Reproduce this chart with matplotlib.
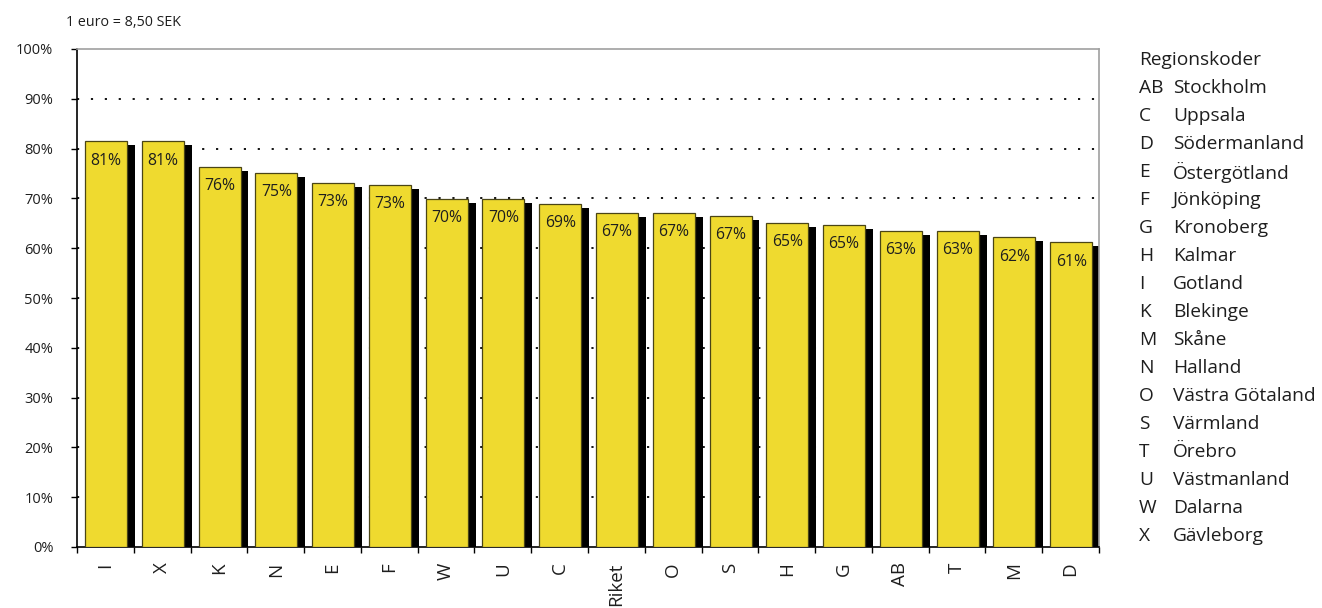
import matplotlib
matplotlib.use("Agg")
import matplotlib.pyplot as plt
import numpy as np

plt.rcParams['font.family'] = ['Open Sans', 'DejaVu Sans']

categories = ["I", "X", "K", "N", "E", "F", "W", "U", "C", "Riket",
              "O", "S", "H", "G", "AB", "T", "M", "D"]
values = [81.5, 81.5, 76.3, 75.1, 73.1, 72.7, 69.9, 69.9, 68.9, 67.1,
          67.1, 66.5, 65.1, 64.7, 63.5, 63.5, 62.2, 61.2]
labels = ["81%", "81%", "76%", "75%", "73%", "73%", "70%", "70%", "69%", "67%",
          "67%", "67%", "65%", "65%", "63%", "63%", "62%", "61%"]
yticks = [0, 10, 20, 30, 40, 50, 60, 70, 80, 90, 100]
ytick_labels = ["0%", "10%", "20%", "30%", "40%", "50%", "60%", "70%", "80%", "90%", "100%"]

legend_title = "Regionskoder"
legend_codes = ["AB", "C", "D", "E", "F", "G", "H", "I", "K", "M", "N", "O", "S", "T", "U", "W", "X"]
legend_names = ["Stockholm", "Uppsala", "Södermanland", "Östergötland", "Jönköping",
                "Kronoberg", "Kalmar", "Gotland", "Blekinge", "Skåne", "Halland",
                "Västra Götaland", "Värmland", "Örebro", "Västmanland", "Dalarna", "Gävleborg"]
note = "1 euro = 8,50 SEK"

W, H = 1322, 608
fig = plt.figure(figsize=(W / 100, H / 100), dpi=100)
ax = fig.add_axes([77 / W, 1 - 547 / H, (1099 - 77) / W, (547 - 49) / H])

n = len(categories)
x = np.arange(n)
bar_off, bar_w = 0.14, 0.74
yellow = "#EFDA2F"
txt = '#1e1e1e'

# shadows
ax.bar(x + bar_off + 0.3, np.array(values) - 0.8, width=bar_w - 0.3 + 0.14,
       align='edge', color='black', linewidth=0, zorder=2)
# main bars
ax.bar(x + bar_off, values, width=bar_w, align='edge', color=yellow,
       edgecolor='#4a4515', linewidth=0.9, zorder=3)

for xi, v, lab in zip(x, values, labels):
    ax.annotate(lab, (xi + bar_off + bar_w / 2, v), xytext=(0, -14),
                textcoords='offset points', ha='center', va='center',
                fontsize=11.3, color=txt, zorder=4)

ax.set_xlim(0, n)
ax.set_ylim(0, 100)

for gy in yticks[1:-1]:
    ax.axhline(gy, color='black', linewidth=1.3, linestyle=(0, (1.2, 6.5)), zorder=1)

ax.set_yticks(yticks)
ax.set_yticklabels(ytick_labels, fontsize=10.5, color=txt)
ax.tick_params(axis='y', direction='out', length=4, width=1, pad=13)

ax.set_xticks(np.arange(n + 1))
ax.set_xticklabels([])
ax.tick_params(axis='x', which='major', direction='out', length=4, width=1)
ax.set_xticks(x + 0.5, minor=True)
ax.set_xticklabels(categories, minor=True, rotation=90, fontsize=13.5, color=txt)
ax.tick_params(axis='x', which='minor', length=0, pad=11)

for s in ['left', 'bottom']:
    ax.spines[s].set_color('black')
    ax.spines[s].set_linewidth(1.2)
for s in ['top', 'right']:
    ax.spines[s].set_color('#a0a0a0')
    ax.spines[s].set_linewidth(1.2)

fig.text(66 / W, 1 - 22 / H, note, fontsize=10.3, va='center', ha='left', color=txt)

lx_code, lx_name = 1139 / W, 1173 / W
y0, dy = 60, 28
fs_leg = 13.8
fig.text(lx_code, 1 - y0 / H, legend_title, fontsize=fs_leg, va='center', ha='left', color=txt)
for i, (c, nm) in enumerate(zip(legend_codes, legend_names)):
    yy = 1 - (y0 + (i + 1) * dy) / H
    fig.text(lx_code, yy, c, fontsize=fs_leg, va='center', ha='left', color=txt)
    fig.text(lx_name, yy, nm, fontsize=fs_leg, va='center', ha='left', color=txt)

fig.savefig("out.png", dpi=100)
